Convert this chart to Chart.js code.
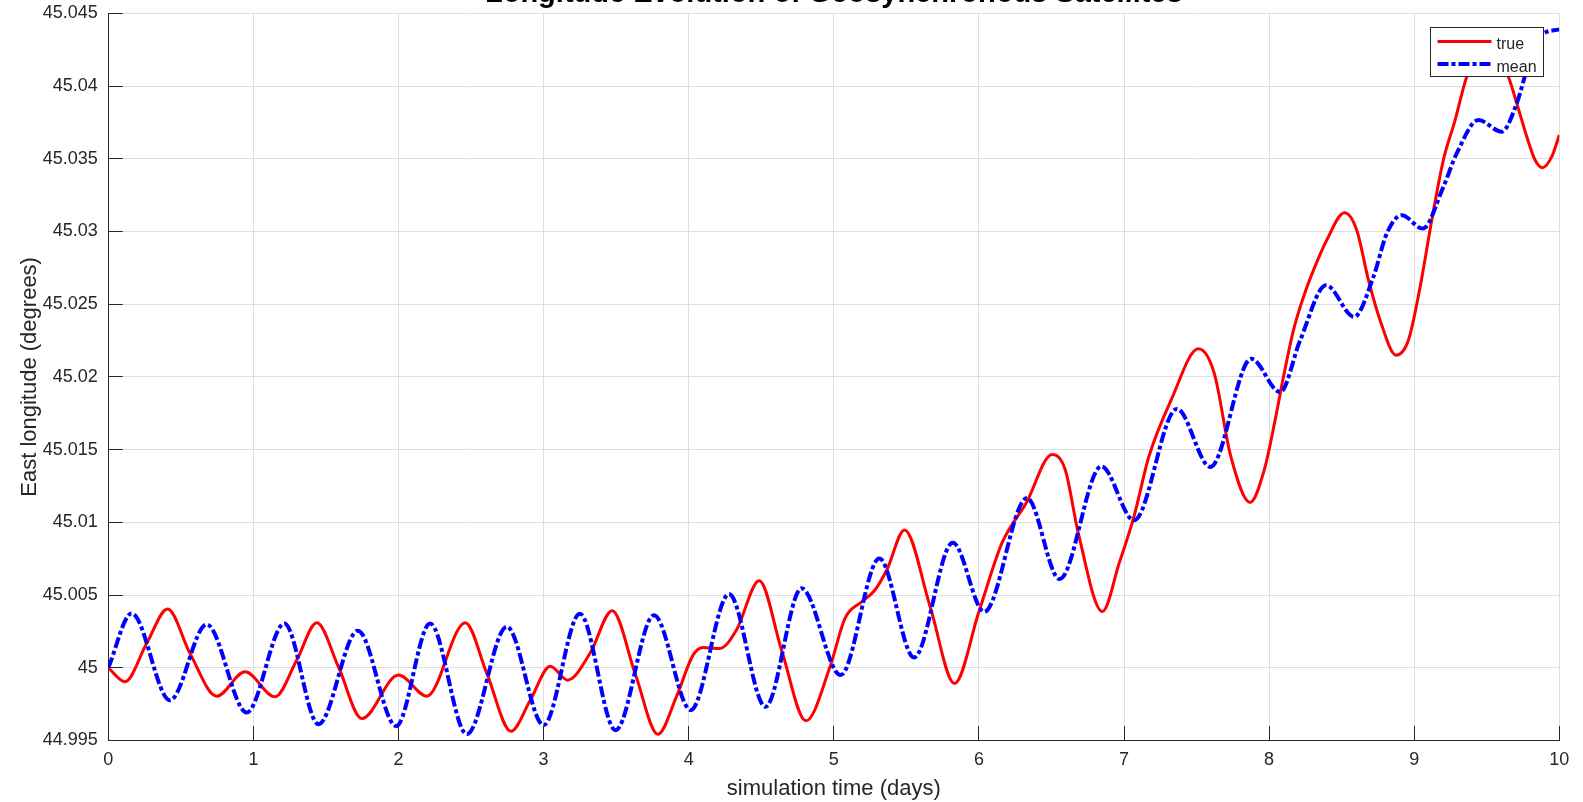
<!DOCTYPE html>
<html>
<head>
<meta charset="utf-8">
<title>Longitude Evolution of Geosynchronous Satellites</title>
<script src="https://cdn.jsdelivr.net/npm/chart.js@4.4.1/dist/chart.umd.min.js"></script>
<style>
  html, body { margin: 0; padding: 0; background: #fff; overflow: hidden; }
  #wrap { position: relative; width: 1583px; height: 802px; }
</style>
</head>
<body>
<div id="wrap"><canvas id="lonChart" width="1583" height="802"></canvas></div>
<script>
// values (time in days, longitude in degrees)
const trueTimes = [0, 0.115, 0.264, 0.409, 0.563, 0.747, 0.943, 1.149, 1.299, 1.437,
  1.586, 1.747, 2.0, 2.195, 2.46, 2.609, 2.775, 2.908, 3.046, 3.165,
  3.32, 3.473, 3.634, 3.788, 3.915, 4.03, 4.099, 4.214, 4.329, 4.486,
  4.64, 4.808, 4.974, 5.077, 5.192, 5.284, 5.365, 5.488, 5.664, 5.832,
  6.0, 6.16, 6.326, 6.505, 6.595, 6.685, 6.851, 6.967, 7.069, 7.172,
  7.326, 7.513, 7.621, 7.736, 7.869, 7.967, 8.041, 8.099, 8.168, 8.237,
  8.306, 8.397, 8.519, 8.604, 8.685, 8.765, 8.875, 8.96, 9.041, 9.121,
  9.201, 9.282, 9.362, 9.5, 9.649, 9.707, 9.776, 9.833, 9.884, 9.948,
  10.0];
const trueLon = [45.0, 44.99904, 45.00167, 45.00404, 45.00099, 44.99805, 44.99972, 44.998, 45.00053, 45.0031,
  45.00007, 44.99651, 44.9995, 44.99805, 45.0031, 44.99961, 44.99564, 44.99777, 45.00011, 44.99915,
  45.001, 45.00392, 44.9995, 44.99543, 44.998, 45.00087, 45.0014, 45.00133, 45.00259, 45.00599,
  45.00122, 44.99635, 45.00007, 45.0034, 45.00454, 45.00535, 45.00672, 45.00948, 45.0042, 44.99892,
  45.00385, 45.0086, 45.01133, 45.01466, 45.01362, 45.00926, 45.00387, 45.0072, 45.01041, 45.01454,
  45.01844, 45.02193, 45.02028, 45.01454, 45.01137, 45.01362, 45.01701, 45.02, 45.02321, 45.0255,
  45.02734, 45.0294, 45.03128, 45.03009, 45.02665, 45.0239, 45.02149, 45.02252, 45.02619, 45.03078,
  45.03491, 45.03766, 45.04064, 45.0432, 45.04064, 45.03881, 45.03651, 45.03491, 45.03438, 45.03514,
  45.03663];

const meanTimes = [0, 0.161, 0.425, 0.678, 0.954, 1.214, 1.448, 1.72, 1.984, 2.218,
  2.471, 2.747, 3.0, 3.25, 3.496, 3.761, 4.014, 4.278, 4.529, 4.778,
  5.047, 5.314, 5.553, 5.82, 6.037, 6.331, 6.556, 6.844, 7.069, 7.364,
  7.595, 7.877, 8.076, 8.214, 8.393, 8.586, 8.719, 8.811, 8.914, 9.059,
  9.201, 9.293, 9.443, 9.603, 9.707, 9.776, 9.868, 10.0];
const meanLon = [45.0, 45.00374, 44.99777, 45.00298, 44.99693, 45.00305, 44.99612, 45.00255, 44.99599, 45.00305,
  44.99543, 45.00282, 44.99605, 45.00372, 44.99571, 45.00362, 44.99709, 45.00507, 44.99732, 45.00546,
  44.9995, 45.00752, 45.00071, 45.0086, 45.00385, 45.01167, 45.0061, 45.01385, 45.01014, 45.0178,
  45.01381, 45.02124, 45.01896, 45.02252, 45.0263, 45.02413, 45.02688, 45.02986, 45.03112, 45.0302,
  45.03307, 45.03537, 45.03766, 45.03686, 45.03881, 45.0411, 45.0434, 45.0439];

const xTicks = [0, 1, 2, 3, 4, 5, 6, 7, 8, 9, 10];
const yTicks = [44.995, 45, 45.005, 45.01, 45.015, 45.02, 45.025, 45.03, 45.035, 45.04, 45.045];

const axisColor = '#262626';
const gridColor = '#dedede';
const fontFamily = '"Liberation Sans", Arial, Helvetica, sans-serif';

Chart.defaults.font.family = fontFamily;
Chart.defaults.color = axisColor;

const toPoints = (xs, ys) => xs.map((x, i) => ({ x: x, y: ys[i] }));

// MATLAB style title, mostly above the visible area
const titlePlugin = {
    id: 'cutTitle',
    afterDraw(chart) {
        const ctx = chart.ctx;
        const area = chart.chartArea;
        ctx.save();
        ctx.font = 'bold 29px ' + fontFamily;
        ctx.fillStyle = '#000';
        ctx.textAlign = 'center';
        ctx.textBaseline = 'alphabetic';
        ctx.fillText('Longitude Evolution of Geosynchronous Satellites', (area.left + area.right) / 2, 1.5);
        ctx.restore();
    }
};

// boxed legend in the upper right corner of the axes
const boxLegend = {
    id: 'boxLegend',
    afterDraw(chart) {
        const ctx = chart.ctx;
        const area = chart.chartArea;
        const w = 113, h = 49;
        const left = Math.round(area.right - 129) + 0.5;
        const top = Math.round(area.top + 14) + 0.5;
        ctx.save();
        ctx.fillStyle = '#fff';
        ctx.fillRect(left, top, w, h);
        ctx.strokeStyle = axisColor;
        ctx.lineWidth = 1;
        ctx.strokeRect(left, top, w, h);
        ctx.font = '16px ' + fontFamily;
        ctx.textBaseline = 'alphabetic';
        ctx.textAlign = 'left';
        chart.data.datasets.forEach((ds, i) => {
            const y = top + 14 + i * 22.5;
            ctx.beginPath();
            ctx.strokeStyle = ds.borderColor;
            ctx.lineWidth = ds.borderWidth;
            ctx.setLineDash(ds.borderDash || []);
            ctx.moveTo(left + 7, y);
            ctx.lineTo(left + 61, y);
            ctx.stroke();
            ctx.setLineDash([]);
            ctx.fillStyle = axisColor;
            ctx.fillText(ds.label, left + 66, y + 7.5);
        });
        ctx.restore();
    }
};

const ctx = document.getElementById('lonChart').getContext('2d');
const chart = new Chart(ctx, {
    type: 'line',
    data: {
        datasets: [{
            label: 'true',
            data: toPoints(trueTimes, trueLon),
            borderColor: '#ff0000',
            borderWidth: 3,
            pointRadius: 0,
            fill: false,
            cubicInterpolationMode: 'monotone',
            order: 2
        }, {
            label: 'mean',
            data: toPoints(meanTimes, meanLon),
            borderColor: '#0000ff',
            borderWidth: 4,
            borderDash: [11, 3, 4, 3],
            pointRadius: 0,
            fill: false,
            cubicInterpolationMode: 'monotone',
            order: 1
        }]
    },
    options: {
        responsive: false,
        animation: false,
        devicePixelRatio: 1,
        layout: { padding: { top: 13.3, right: 23.7, left: 0, bottom: 0 } },
        plugins: {
            legend: { display: false },
            title: { display: false },
            tooltip: { enabled: false }
        },
        scales: {
            x: {
                type: 'linear',
                min: 0,
                max: 10,
                afterBuildTicks: (scale) => { scale.ticks = xTicks.map(v => ({ value: v })); },
                afterFit: (scale) => {
                    scale.height = 61.5;
                    scale.paddingLeft = 0;
                    scale.paddingRight = 0;
                },
                ticks: {
                    font: { size: 18 },
                    color: axisColor,
                    padding: 23,
                    maxRotation: 0,
                    callback: (v) => String(v)
                },
                grid: {
                    color: gridColor,
                    lineWidth: 1,
                    tickLength: -14.5,
                    tickColor: axisColor,
                    tickWidth: 1
                },
                border: { color: axisColor, width: 1 },
                title: {
                    display: true,
                    text: 'simulation time (days)',
                    font: { size: 22 },
                    color: axisColor,
                    padding: { top: 0, bottom: 0 }
                }
            },
            y: {
                type: 'linear',
                min: 44.995,
                max: 45.045,
                afterBuildTicks: (scale) => { scale.ticks = yTicks.map(v => ({ value: v })); },
                afterFit: (scale) => {
                    scale.width = 108.3;
                    scale.paddingTop = 0;
                    scale.paddingBottom = 0;
                },
                ticks: {
                    font: { size: 18 },
                    color: axisColor,
                    padding: 25,
                    callback: (v) => String(Number(v.toFixed(3)))
                },
                grid: {
                    color: gridColor,
                    lineWidth: 1,
                    tickLength: -14.5,
                    tickColor: axisColor,
                    tickWidth: 1
                },
                border: { color: axisColor, width: 1 },
                title: {
                    display: true,
                    text: 'East longitude (degrees)',
                    font: { size: 22 },
                    color: axisColor,
                    padding: { top: 17, bottom: 0 }
                }
            }
        }
    },
    plugins: [titlePlugin, boxLegend]
});
</script>
</body>
</html>
